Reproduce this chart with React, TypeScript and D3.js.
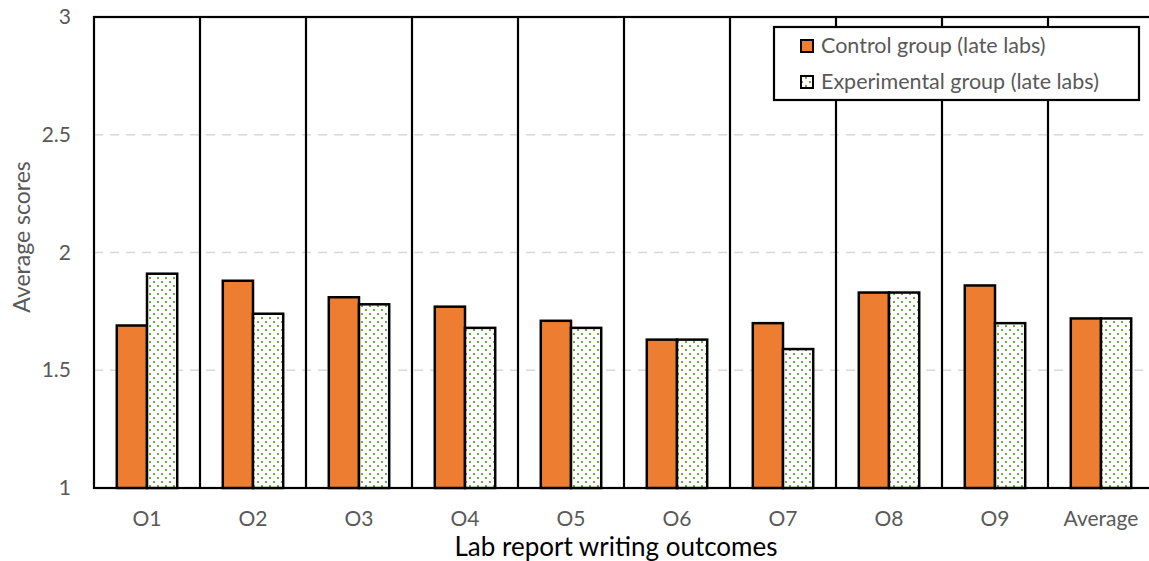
import { useEffect, useRef } from 'react';
import * as d3 from 'd3';

const categories = ['O1', 'O2', 'O3', 'O4', 'O5', 'O6', 'O7', 'O8', 'O9', 'Average'];
const controlScores = [1.69, 1.88, 1.81, 1.77, 1.71, 1.63, 1.70, 1.83, 1.86, 1.72];
const experimentalScores = [1.91, 1.74, 1.78, 1.68, 1.68, 1.63, 1.59, 1.83, 1.70, 1.72];
const seriesNames = ['Control group (late labs)', 'Experimental group (late labs)'];
const yTicks = [1, 1.5, 2, 2.5, 3];

const W = 1149;
const H = 561;
const FONT = 'Lato, "Open Sans", sans-serif';

export default function App() {
  const svgRef = useRef<SVGSVGElement>(null);

  useEffect(() => {
    if (!svgRef.current) return;
    const svg = d3.select(svgRef.current);
    svg.selectAll('*').remove();

    const margin = { top: 17, left: 94, bottom: 73 };
    const plotRight = 1154; // chart is cropped on the right in the reference
    const bottom = H - margin.bottom;

    // Dotted pattern for experimental bars
    const defs = svg.append('defs');
    const pat = defs.append('pattern')
      .attr('id', 'dots')
      .attr('patternUnits', 'userSpaceOnUse')
      .attr('width', 8)
      .attr('height', 8);
    pat.append('rect').attr('width', 8).attr('height', 8).attr('fill', '#fff');
    pat.append('rect').attr('x', 1).attr('y', 1).attr('width', 2).attr('height', 2).attr('fill', '#70ad47');
    pat.append('rect').attr('x', 5).attr('y', 5).attr('width', 2).attr('height', 2).attr('fill', '#70ad47');

    const x = d3.scaleBand<string>().domain(categories).range([margin.left, plotRight]);
    const bw = x.bandwidth();
    const x1 = d3.scaleBand<number>().domain([0, 1]).range([bw * 0.215, bw * 0.785]);
    const y = d3.scaleLinear().domain([1, 3]).range([bottom, margin.top]);

    const g = svg.append('g');

    // Grid lines
    g.selectAll('.grid')
      .data(yTicks.filter(t => t > 1 && t < 3))
      .join('line')
      .attr('x1', margin.left).attr('x2', plotRight)
      .attr('y1', d => y(d)).attr('y2', d => y(d))
      .attr('stroke', '#d9d9d9')
      .attr('stroke-width', 1.5)
      .attr('stroke-dasharray', '9,7');

    // Category separators
    g.selectAll('.sep')
      .data(categories.slice(1))
      .join('line')
      .attr('x1', d => x(d)!).attr('x2', d => x(d)!)
      .attr('y1', margin.top).attr('y2', bottom)
      .attr('stroke', '#000')
      .attr('stroke-width', 2.2);

    // Plot frame
    g.append('rect')
      .attr('x', margin.left).attr('y', margin.top)
      .attr('width', plotRight - margin.left).attr('height', bottom - margin.top)
      .attr('fill', 'none')
      .attr('stroke', '#000')
      .attr('stroke-width', 2.2);

    // Bars
    const series = [controlScores, experimentalScores];
    const fills = ['#ed7d31', 'url(#dots)'];
    series.forEach((vals, si) => {
      g.selectAll(`.bar${si}`)
        .data(vals)
        .join('rect')
        .attr('x', (_d, i) => x(categories[i])! + x1(si)!)
        .attr('y', d => y(d))
        .attr('width', x1.bandwidth())
        .attr('height', d => bottom - y(d))
        .attr('fill', fills[si])
        .attr('stroke', '#000')
        .attr('stroke-width', 2.5);
    });

    // Y tick labels
    g.selectAll('.ytick')
      .data(yTicks)
      .join('text')
      .attr('x', 71)
      .attr('y', d => y(d) + 7)
      .attr('text-anchor', 'end')
      .attr('fill', '#595959')
      .attr('font-family', FONT)
      .attr('font-size', 21)
      .text(d => String(d));

    // X tick labels
    g.selectAll('.xtick')
      .data(categories)
      .join('text')
      .attr('x', d => x(d)! + bw / 2)
      .attr('y', 526)
      .attr('text-anchor', 'middle')
      .attr('fill', '#595959')
      .attr('font-family', FONT)
      .attr('font-size', 21)
      .text(d => d);

    // Axis titles
    svg.append('text')
      .attr('x', 616)
      .attr('y', 556)
      .attr('text-anchor', 'middle')
      .attr('fill', '#000')
      .attr('font-family', FONT)
      .attr('font-size', 26)
      .text('Lab report writing outcomes');

    svg.append('text')
      .attr('transform', `translate(30,237) rotate(-90)`)
      .attr('text-anchor', 'middle')
      .attr('fill', '#595959')
      .attr('font-family', FONT)
      .attr('font-size', 23)
      .text('Average scores');

    // Legend
    const lg = svg.append('g');
    lg.append('rect')
      .attr('x', 774).attr('y', 27)
      .attr('width', 365).attr('height', 73)
      .attr('fill', '#fff')
      .attr('stroke', '#000')
      .attr('stroke-width', 2.2);
    seriesNames.forEach((name, i) => {
      const cy = 46 + i * 36;
      lg.append('rect')
        .attr('x', 801).attr('y', cy - 6)
        .attr('width', 12).attr('height', 12)
        .attr('fill', fills[i])
        .attr('stroke', '#000')
        .attr('stroke-width', 2);
      lg.append('text')
        .attr('x', 821).attr('y', cy + 7)
        .attr('fill', '#595959')
        .attr('font-family', FONT)
        .attr('font-size', 21.5)
        .text(name);
    });
  }, []);

  return (
    <div style={{ position: 'fixed', left: 0, top: 0, background: '#fff' }}>
      <svg ref={svgRef} width={W} height={H} style={{ display: 'block' }} />
    </div>
  );
}
